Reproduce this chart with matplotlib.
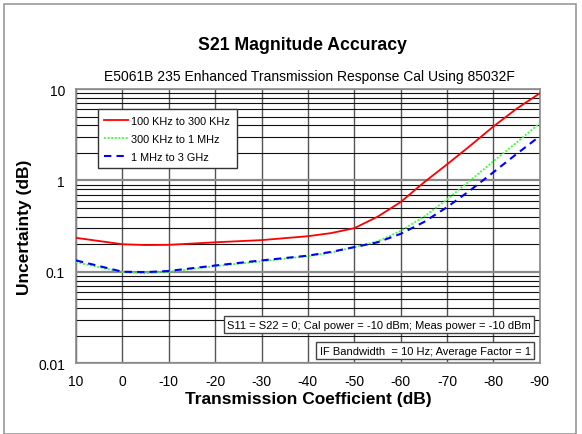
import matplotlib
matplotlib.use("Agg")
import matplotlib.pyplot as plt
import numpy as np
from matplotlib.patches import Rectangle
from matplotlib.ticker import LogLocator, FixedLocator, NullFormatter

plt.rcParams["font.family"] = ["Liberation Sans", "DejaVu Sans"]

# -------------------------
# Data
# -------------------------
trans_db = [10, 0, -5, -10, -20, -30, -40, -45, -50, -55, -60, -65, -70, -75, -80, -85, -90]
red_100k_300k = [0.235, 0.20, 0.196, 0.197, 0.21, 0.222, 0.245, 0.265, 0.30, 0.40, 0.58, 0.95, 1.5, 2.4, 3.9, 6.1, 9.0]
green_300k_1m = [0.127, 0.099, 0.096, 0.100, 0.115, 0.130, 0.148, 0.162, 0.186, 0.215, 0.28, 0.40, 0.62, 1.0, 1.62, 2.6, 4.25]
blue_1m_3g = [0.133, 0.100, 0.099, 0.102, 0.117, 0.133, 0.150, 0.165, 0.186, 0.210, 0.26, 0.35, 0.51, 0.78, 1.23, 1.95, 3.05]

series_labels = ["100 KHz to 300 KHz", "300 KHz to 1 MHz", "1 MHz to 3 GHz"]
x_ticks = [10, 0, -10, -20, -30, -40, -50, -60, -70, -80, -90]
y_ticks = [0.01, 0.1, 1, 10]
y_ticklabels = ["0.01", "0.1", "1", "10"]

# -------------------------
# Figure
# -------------------------
fig = plt.figure(figsize=(5.82, 4.35), dpi=100)
ax = fig.add_axes([0.1306, 0.163, 0.797, 0.630])

# outer frame of the picture
fig.patches.append(Rectangle((0.007, 0.0), 0.983, 0.989, transform=fig.transFigure,
                             fill=False, ec="#9a9a9a", lw=1.2, zorder=0))

ax.set_yscale("log")
ax.set_xlim(10, -90)
ax.set_ylim(0.01, 10)

ax.plot(trans_db, red_100k_300k, color="#ff0000", lw=1.3, label=series_labels[0], zorder=4)
ax.plot(trans_db, green_300k_1m, color="#33ff33", lw=1.3, ls=(0, (1, 1)), label=series_labels[1], zorder=4)
ax.plot(trans_db, blue_1m_3g, color="#0000ff", lw=1.5, ls=(0, (3.5, 2.5)), label=series_labels[2], zorder=5)

# grid
ax.xaxis.set_major_locator(FixedLocator(x_ticks))
ax.set_xticklabels([str(t) for t in x_ticks])
ax.yaxis.set_major_locator(FixedLocator(y_ticks))
ax.set_yticklabels(y_ticklabels)
ax.yaxis.set_minor_locator(LogLocator(base=10, subs=np.arange(2, 10)))
ax.yaxis.set_minor_formatter(NullFormatter())
ax.grid(which="major", axis="y", color="#8a8a8a", lw=1.6)
ax.grid(which="minor", axis="y", color="#111111", lw=0.8)
ax.grid(which="major", axis="x", color="#555555", lw=1.0)
ax.tick_params(which="both", length=0, labelsize=10, pad=8)
for s in ax.spines.values():
    s.set_color("#8a8a8a")
    s.set_linewidth(1.2)

ax.set_xlabel("Transmission Coefficient (dB)", fontsize=12.5, fontweight="bold", labelpad=2)
ax.set_ylabel("Uncertainty (dB)", fontsize=12.5, fontweight="bold", labelpad=4)

fig.text(0.52, 0.895, "S21 Magnitude Accuracy", ha="center", va="center",
         fontsize=12.7, fontweight="bold")
fig.text(0.532, 0.824, "E5061B 235 Enhanced Transmission Response Cal Using 85032F",
         ha="center", va="center", fontsize=10)

leg = ax.legend(loc="upper left", bbox_to_anchor=(0.047, 0.927), fontsize=7.8,
                frameon=True, fancybox=False, handlelength=2.2, borderpad=0.6,
                labelspacing=0.75, handletextpad=0.3, borderaxespad=0)
leg.get_frame().set_edgecolor("#333333")
leg.get_frame().set_linewidth(1.0)
leg.get_frame().set_alpha(1)

box = dict(boxstyle="square,pad=0.3", fc="white", ec="#444444", lw=1.0)
ax.text(0.98, 0.14, "S11 = S22 = 0; Cal power = -10 dBm; Meas power = -10 dBm",
        transform=ax.transAxes, ha="right", va="center", fontsize=8, bbox=box, zorder=6)
ax.text(0.98, 0.045, "IF Bandwidth  = 10 Hz; Average Factor = 1",
        transform=ax.transAxes, ha="right", va="center", fontsize=8, bbox=box, zorder=6)

plt.savefig("out.png", dpi=100)
plt.close()
